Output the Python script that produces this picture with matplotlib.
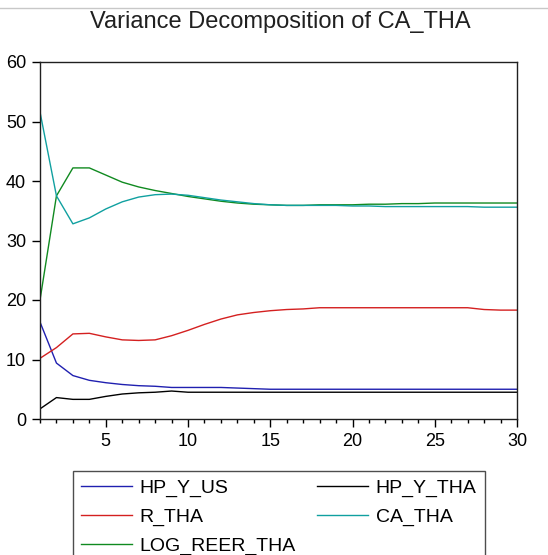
import matplotlib
matplotlib.use("Agg")
import matplotlib.pyplot as plt
from matplotlib.lines import Line2D
from matplotlib.ticker import MultipleLocator

plt.rcParams['font.family'] = ['Liberation Sans', 'DejaVu Sans']

periods = list(range(1, 31))
hp_y_us = [16.3, 9.4, 7.3, 6.5, 6.1, 5.8, 5.6, 5.5, 5.3, 5.3, 5.3, 5.3, 5.2, 5.1, 5.0,
           5.0, 5.0, 5.0, 5.0, 5.0, 5.0, 5.0, 5.0, 5.0, 5.0, 5.0, 5.0, 5.0, 5.0, 5.0]
hp_y_tha = [1.7, 3.6, 3.3, 3.3, 3.8, 4.2, 4.4, 4.5, 4.7, 4.5, 4.5, 4.5, 4.5, 4.5, 4.5,
            4.5, 4.5, 4.5, 4.5, 4.5, 4.5, 4.5, 4.5, 4.5, 4.5, 4.5, 4.5, 4.5, 4.5, 4.5]
r_tha = [10.2, 12.0, 14.3, 14.4, 13.8, 13.3, 13.2, 13.3, 14.0, 14.9, 15.9, 16.8, 17.5, 17.9, 18.2,
         18.4, 18.5, 18.7, 18.7, 18.7, 18.7, 18.7, 18.7, 18.7, 18.7, 18.7, 18.7, 18.4, 18.3, 18.3]
ca_tha = [51.6, 37.5, 32.8, 33.8, 35.3, 36.5, 37.3, 37.7, 37.8, 37.6, 37.2, 36.8, 36.5, 36.2, 36.0,
          35.9, 35.9, 35.9, 35.9, 35.8, 35.8, 35.7, 35.7, 35.7, 35.7, 35.7, 35.7, 35.6, 35.6, 35.6]
log_reer_tha = [20.0, 37.5, 42.2, 42.2, 41.0, 39.8, 39.0, 38.4, 37.9, 37.4, 37.0, 36.6, 36.3, 36.1, 36.0,
                35.9, 35.9, 36.0, 36.0, 36.0, 36.1, 36.1, 36.2, 36.2, 36.3, 36.3, 36.3, 36.3, 36.3, 36.3]

series = [
    ("HP_Y_US", hp_y_us, "#2020b0"),
    ("R_THA", r_tha, "#d42020"),
    ("LOG_REER_THA", log_reer_tha, "#108a20"),
    ("HP_Y_THA", hp_y_tha, "#000000"),
    ("CA_THA", ca_tha, "#10a0a0"),
]

W, H = 548, 555
fig = plt.figure(figsize=(W / 100, H / 100), dpi=100)
ax = fig.add_axes([40 / W, 1 - 419 / H, (517 - 40) / W, (419 - 62) / H])

handles = []
for name, vals, col in series:
    ln, = ax.plot(periods, vals, color=col, lw=1.0, label=name)
    handles.append(ln)

ax.set_xlim(1, 30)
ax.set_ylim(0, 60)
ax.xaxis.set_major_locator(MultipleLocator(5))
ax.xaxis.set_minor_locator(MultipleLocator(1))
ax.yaxis.set_major_locator(MultipleLocator(10))
ax.tick_params(axis='both', which='major', direction='out', length=6, width=1.0,
               labelsize=13, pad=4, color='black')
ax.tick_params(axis='x', which='minor', direction='out', length=3, width=1.0)
for sp in ax.spines.values():
    sp.set_linewidth(1.0)
    sp.set_color('#202020')

fig.text(280 / W, 1 - 22 / H, "Variance Decomposition of CA_THA", ha='center', va='center',
         fontsize=17, color='#202020')

fig.add_artist(Line2D([0, 1], [1 - 8 / H, 1 - 8 / H], transform=fig.transFigure,
                      color='#c8c8c8', lw=1))

leg = fig.legend(handles=handles, labels=[s[0] for s in series], ncol=2,
                 loc='upper left', bbox_to_anchor=(72.7 / W, 1 - 470.7 / H),
                 frameon=True, fancybox=False, fontsize=14, handlelength=2.6,
                 columnspacing=1.1, labelspacing=0.58, borderaxespad=0, borderpad=0.45,
                 handletextpad=0.4)
leg.get_frame().set_edgecolor('#202020')
leg.get_frame().set_linewidth(1.0)

fig.savefig("out.png", dpi=100)
